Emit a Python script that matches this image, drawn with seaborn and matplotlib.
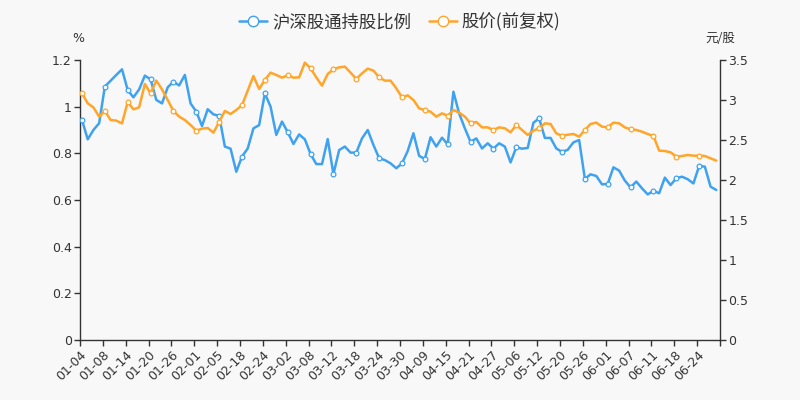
import numpy as np
import pandas as pd
import matplotlib
matplotlib.use("Agg")
import matplotlib.pyplot as plt
import seaborn as sns
from matplotlib.lines import Line2D

# ---- data ----
tick_labels = ["01-04", "01-08", "01-14", "01-20", "01-26", "02-01", "02-05", "02-18",
               "02-24", "03-02", "03-08", "03-12", "03-18", "03-24", "03-30", "04-09",
               "04-15", "04-21", "04-27", "05-06", "05-12", "05-20", "05-26", "06-01",
               "06-07", "06-11", "06-18", "06-24"]

holding_ratio = [0.943, 0.860, 0.900, 0.929, 1.086, 1.111, 1.136, 1.160, 1.071, 1.040,
                 1.074, 1.133, 1.117, 1.029, 1.014, 1.083, 1.107, 1.091, 1.136, 1.014,
                 0.979, 0.917, 0.989, 0.967, 0.961, 0.829, 0.820, 0.721, 0.786, 0.821,
                 0.907, 0.921, 1.057, 1.000, 0.879, 0.936, 0.891, 0.840, 0.881, 0.860,
                 0.797, 0.754, 0.754, 0.861, 0.711, 0.814, 0.829, 0.803, 0.803, 0.864,
                 0.900, 0.836, 0.779, 0.771, 0.757, 0.736, 0.757, 0.810, 0.886, 0.789,
                 0.776, 0.869, 0.829, 0.867, 0.839, 1.064, 0.971, 0.907, 0.849, 0.864,
                 0.821, 0.843, 0.820, 0.843, 0.829, 0.761, 0.826, 0.820, 0.823, 0.931,
                 0.950, 0.866, 0.866, 0.821, 0.806, 0.815, 0.847, 0.857, 0.691, 0.710,
                 0.703, 0.667, 0.669, 0.740, 0.726, 0.683, 0.654, 0.679, 0.650, 0.624,
                 0.639, 0.629, 0.696, 0.664, 0.693, 0.700, 0.689, 0.671, 0.746, 0.743,
                 0.657, 0.643]

price = [3.083, 2.958, 2.908, 2.792, 2.863, 2.750, 2.742, 2.708, 2.975, 2.883,
         2.908, 3.200, 3.083, 3.242, 3.133, 3.000, 2.863, 2.792, 2.750, 2.688,
         2.617, 2.642, 2.650, 2.592, 2.725, 2.863, 2.825, 2.875, 2.935, 3.117,
         3.300, 3.138, 3.250, 3.342, 3.313, 3.279, 3.308, 3.279, 3.283, 3.467,
         3.396, 3.283, 3.179, 3.325, 3.383, 3.408, 3.417, 3.342, 3.263, 3.333,
         3.392, 3.367, 3.283, 3.242, 3.242, 3.146, 3.033, 3.058, 3.000, 2.896,
         2.871, 2.854, 2.792, 2.833, 2.804, 2.875, 2.842, 2.792, 2.708, 2.725,
         2.658, 2.658, 2.625, 2.658, 2.646, 2.596, 2.688, 2.625, 2.563, 2.617,
         2.646, 2.708, 2.700, 2.583, 2.554, 2.566, 2.575, 2.542, 2.625, 2.700,
         2.717, 2.667, 2.658, 2.717, 2.708, 2.658, 2.633, 2.625, 2.604, 2.575,
         2.550, 2.367, 2.362, 2.346, 2.292, 2.300, 2.313, 2.304, 2.304, 2.300,
         2.271, 2.242]

series1_name = "沪深股通持股比例"
series2_name = "股价(前复权)"

blue = "#3fa2f0"
orange = "#ffa52a"
bg = "#f8f8f8"
axis_col = "#333333"

df = pd.DataFrame({"idx": np.arange(len(price)) + 0.35,
                   "ratio": holding_ratio,
                   "price": price})

sns.set_theme(style="white")
plt.rcParams["font.family"] = ["Noto Sans CJK SC", "DejaVu Sans"]

fig = plt.figure(figsize=(8, 4), dpi=100, facecolor=bg)
ax = fig.add_axes([0.1, 0.15, 0.8, 0.7])
ax.set_facecolor(bg)
ax2 = ax.twinx()

line_kw = dict(linewidth=1.8, marker="o", markevery=4, markersize=3.4,
               markerfacecolor="white", markeredgewidth=0.9)
sns.lineplot(data=df, x="idx", y="ratio", ax=ax, color=blue,
             markeredgecolor=blue, legend=False, zorder=3, **line_kw)
sns.lineplot(data=df, x="idx", y="price", ax=ax2, color=orange,
             markeredgecolor=orange, legend=False, zorder=3, **line_kw)

n = len(price)
ax.set_xlim(0, n)
ax.set_ylim(0, 1.2)
ax2.set_ylim(0, 3.5)

xt = list(range(0, n + 1, 4))
ax.set_xticks(xt)
ax.set_xticklabels(tick_labels + [""], rotation=45, ha="right",
                   rotation_mode="anchor", fontsize=9, color=axis_col,
                   family="DejaVu Sans")

yt = [0, 0.2, 0.4, 0.6, 0.8, 1.0, 1.2]
ax.set_yticks(yt)
ax.set_yticklabels(["0", "0.2", "0.4", "0.6", "0.8", "1", "1.2"],
                   fontsize=9, color=axis_col, family="DejaVu Sans")
yt2 = [0, 0.5, 1, 1.5, 2, 2.5, 3, 3.5]
ax2.set_yticks(yt2)
ax2.set_yticklabels(["0", "0.5", "1", "1.5", "2", "2.5", "3", "3.5"],
                    fontsize=9, color=axis_col, family="DejaVu Sans")

for a in (ax, ax2):
    a.set_xlabel("")
    a.set_ylabel("")
    a.grid(False)
    for s in a.spines.values():
        s.set_color(axis_col)
        s.set_linewidth(1.0)
    a.spines["top"].set_visible(False)
ax.spines["right"].set_visible(False)
ax2.spines["left"].set_visible(False)
ax2.spines["bottom"].set_visible(False)

ax.tick_params(axis="both", which="major", length=4, width=1, color=axis_col,
               direction="out", pad=2, left=True, bottom=True)
ax2.tick_params(axis="y", which="major", length=4, width=1, color=axis_col,
                direction="out", pad=2, right=True)

fig.text(0.098, 0.905, "%", ha="center", va="center", fontsize=9,
         color=axis_col, family="DejaVu Sans")
fig.text(0.9, 0.905, "元/股", ha="center", va="center", fontsize=9,
         color=axis_col)

handles = [
    Line2D([0], [0], color=blue, linewidth=1.8, marker="o", markersize=7.5,
           markerfacecolor="white", markeredgecolor=blue, markeredgewidth=1.0),
    Line2D([0], [0], color=orange, linewidth=1.8, marker="o", markersize=7.5,
           markerfacecolor="white", markeredgecolor=orange, markeredgewidth=1.0),
]
fig.legend(handles, [series1_name, series2_name], loc="upper center",
           bbox_to_anchor=(0.5, 1.008), ncol=2, frameon=False, fontsize=12.5,
           handlelength=1.6, handletextpad=0.3, columnspacing=1.0,
           labelcolor="#333333")

fig.savefig("out.png", dpi=100, facecolor=bg)
